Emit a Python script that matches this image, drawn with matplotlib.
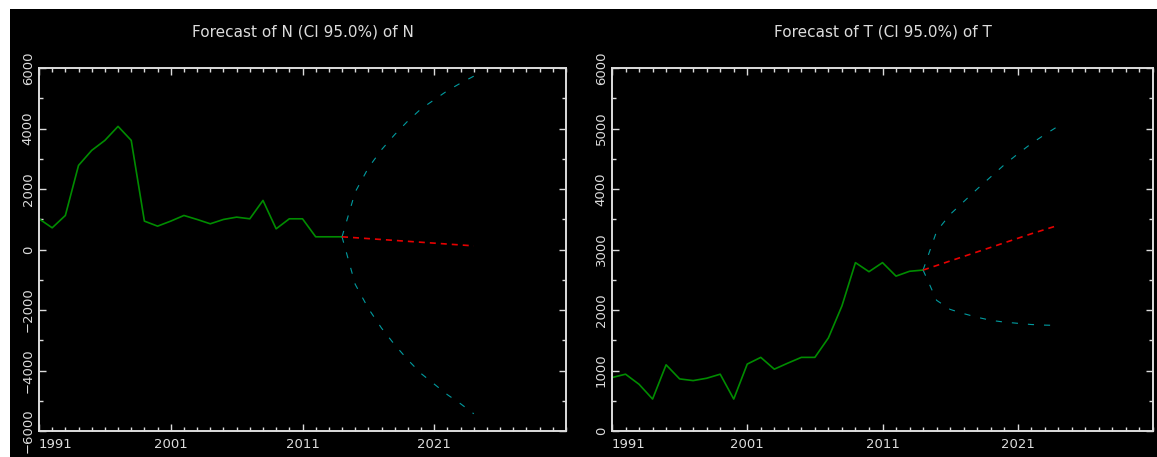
import numpy as np
import matplotlib
matplotlib.use("Agg")
import matplotlib.pyplot as plt
from matplotlib.ticker import MultipleLocator
from matplotlib.patches import Rectangle

# history years and forecast years
hist_years = [1991, 1992, 1993, 1994, 1995, 1996, 1997, 1998, 1999, 2000, 2001, 2002,
              2003, 2004, 2005, 2006, 2007, 2008, 2009, 2010, 2011, 2012, 2013, 2014]
fc_years = [2014, 2015, 2016, 2017, 2018, 2019, 2020, 2021, 2022, 2023, 2024]

# N series
n_hist = [1015, 717, 1125, 2780, 3276, 3607, 4070, 3607, 938, 772, 938, 1125,
          993, 850, 993, 1070, 1015, 1622, 684, 1015, 1015, 420, 420, 420]
n_fc = [420, 390, 360, 330, 300, 270, 240, 210, 180, 150, 120]
n_up = [420, 1900, 2700, 3300, 3800, 4250, 4650, 4950, 5250, 5500, 5730]
n_lo = [420, -1150, -1950, -2600, -3150, -3650, -4100, -4450, -4800, -5100, -5430]

# T series
t_hist = [883, 939, 772, 528, 1094, 861, 833, 872, 939, 528, 1106, 1217,
          1022, 1122, 1217, 1217, 1539, 2067, 2783, 2633, 2783, 2560, 2640, 2660]
t_fc = [2660, 2735, 2810, 2885, 2960, 3035, 3110, 3185, 3260, 3330, 3400]
t_up = [2660, 3300, 3580, 3790, 4000, 4200, 4400, 4580, 4750, 4900, 5040]
t_lo = [2660, 2160, 2010, 1940, 1880, 1830, 1800, 1780, 1760, 1750, 1745]

x_ticks = [1991, 2001, 2011, 2021]
x_labels = ['1991', '2001', '2011', '2021']

W, H = 1157, 457
fig = plt.figure(figsize=(W / 100, H / 100), dpi=100)
fig.patch.set_facecolor('white')
# black panel behind both plots
fig.patches.append(Rectangle((10 / W, 0), 1 - 10 / W, 1 - 9 / H,
                             transform=fig.transFigure, facecolor='black',
                             edgecolor='none', zorder=-10))

fg = '#dcdcdc'
green = '#008c00'
red = '#e60000'
cyan = '#009ca0'


def make_panel(left, right, title, hist, fc, up, lo, yticks, ylabels, yminor):
    ax = fig.add_axes([left / W, 26 / H, (right - left) / W, (431 - 68) / H])
    ax.set_facecolor('black')
    ax.plot(hist_years, hist, color=green, lw=1.2)
    ax.plot(fc_years, up, color=cyan, lw=0.8, dashes=(5.5, 9))
    ax.plot(fc_years, lo, color=cyan, lw=0.8, dashes=(5.5, 9))
    ax.plot(fc_years, fc, color=red, lw=1.2, dashes=(3.6, 3.0))
    ax.set_xlim(1991, 2031)
    ax.set_ylim(yticks[0], yticks[-1])
    ax.set_xticks(x_ticks)
    ax.set_xticklabels(x_labels)
    ax.xaxis.set_minor_locator(MultipleLocator(1))
    ax.set_yticks(yticks)
    ax.set_yticklabels(ylabels)
    ax.yaxis.set_minor_locator(MultipleLocator(yminor))
    ax.tick_params(which='both', direction='in', top=True, right=True,
                   color=fg, labelcolor=fg, labelsize=9.5, width=1)
    ax.tick_params(which='major', length=5)
    ax.tick_params(which='minor', length=3)
    ax.tick_params(axis='x', pad=5)
    ax.tick_params(axis='y', labelrotation=90, pad=3)
    for lab in ax.get_yticklabels():
        lab.set_va('center')
    ax.get_xticklabels()[0].set_ha('left')
    for sp in ax.spines.values():
        sp.set_color(fg)
        sp.set_linewidth(1.4)
    fig.text((left + right) / 2 / W, 1 - 32 / H, title, color=fg, fontsize=11,
             ha='center', va='center')
    return ax


make_panel(39, 566, 'Forecast of N (CI 95.0%) of N', n_hist, n_fc, n_up, n_lo,
           [-6000, -4000, -2000, 0, 2000, 4000, 6000],
           ['\u22126000', '\u22124000', '\u22122000', '0', '2000', '4000', '6000'], 1000)
make_panel(612, 1153, 'Forecast of T (CI 95.0%) of T', t_hist, t_fc, t_up, t_lo,
           [0, 1000, 2000, 3000, 4000, 5000, 6000],
           ['0', '1000', '2000', '3000', '4000', '5000', '6000'], 500)

fig.savefig('out.png', dpi=100, facecolor=fig.get_facecolor())
